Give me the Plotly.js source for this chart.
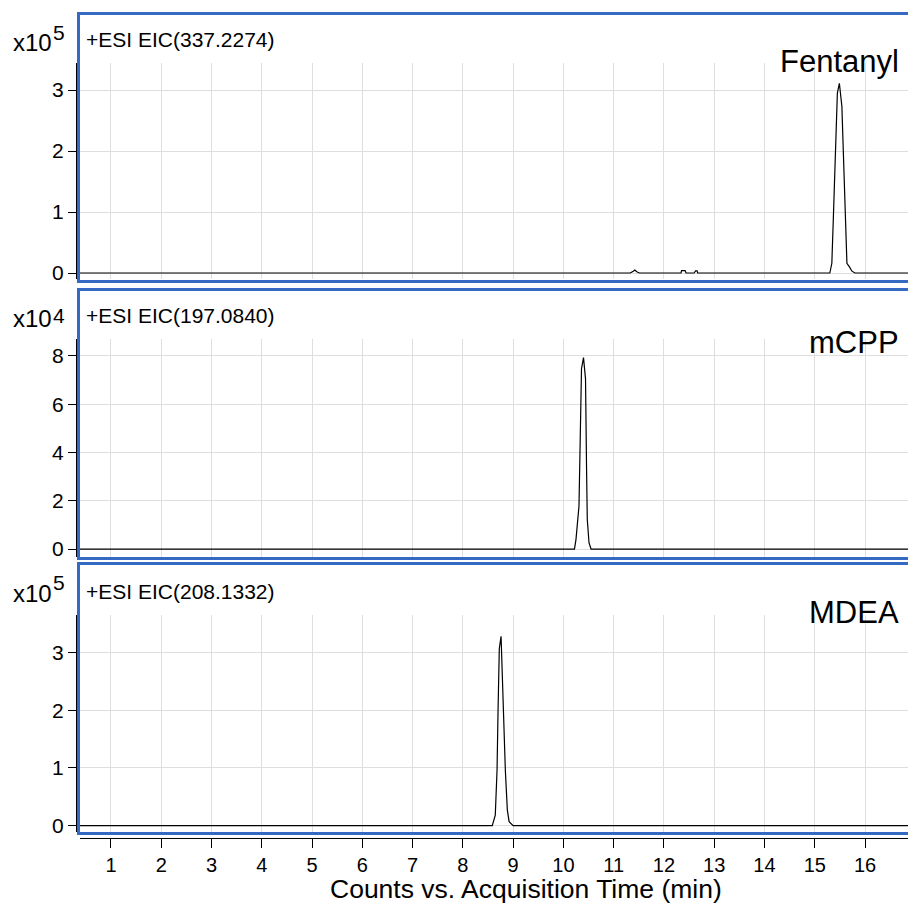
<!DOCTYPE html>
<html>
<head>
<meta charset="utf-8">
<script src="https://cdn.plot.ly/plotly-3.0.1.min.js"></script>
<style>
  html, body { margin: 0; padding: 0; background: #ffffff; }
  #chart { width: 908px; height: 905px; }
</style>
</head>
<body>
<div id="chart"></div>
<script>
// Extracted ion chromatograms: retention time (min) vs. counts
const fentanylTime = [0.38, 11.33, 11.39, 11.42, 11.46, 11.51, 12.34, 12.35, 12.42, 12.44, 12.60, 12.63, 12.66, 12.67,
  15.30, 15.34, 15.37, 15.40, 15.43, 15.45, 15.49, 15.54, 15.57, 15.60, 15.64, 15.69, 15.74, 15.80, 16.86];
const fentanylCounts = [0, 0, 3000, 5000, 2000, 0, 0, 4000, 4000, 0, 0, 3500, 3500, 0,
  0, 16000, 90000, 170000, 245000, 295000, 311000, 273000, 195000, 110000, 16000, 10000, 3000, 0, 0];

const mcppTime = [0.38, 10.22, 10.25, 10.28, 10.31, 10.335, 10.36, 10.40, 10.44, 10.46, 10.475, 10.51, 10.55, 16.86];
const mcppCounts = [0, 0, 3900, 10000, 17800, 46000, 74700, 79300, 70500, 34400, 12200, 2500, 0, 0];

const mdeaTime = [0.38, 8.585, 8.645, 8.68, 8.70, 8.725, 8.76, 8.79, 8.82, 8.845, 8.885, 8.92, 9.0, 16.86];
const mdeaCounts = [0, 0, 18000, 96000, 200000, 307000, 328000, 239000, 160000, 96000, 27000, 7000, 0, 0];

const compoundNames = ['Fentanyl', 'mCPP', 'MDEA'];
const eicLabels = ['+ESI EIC(337.2274)', '+ESI EIC(197.0840)', '+ESI EIC(208.1332)'];
const exponents = [5, 4, 5];
const tickValues = [[0, 1, 2, 3], [0, 2, 4, 6, 8], [0, 1, 2, 3]];
const timeTicks = [1, 2, 3, 4, 5, 6, 7, 8, 9, 10, 11, 12, 13, 14, 15, 16];
const xTitle = 'Counts vs. Acquisition Time (min)';

// page geometry (pixels)
const W = 908, H = 905;
const ML = 76, MB = 67;
const plotW = W - ML, plotH = H - MB;
const px = p => (p - ML) / plotW;
const py = p => (plotH - p) / plotH;

const FONT = 'Liberation Sans, Arial, sans-serif';
const BLUE = '#3469c4';
const GRID = '#dedede';

const series = [
  {t: fentanylTime, c: fentanylCounts},
  {t: mcppTime, c: mcppCounts},
  {t: mdeaTime, c: mdeaCounts}
];

// panel layout: y-domain in pixels (top, bottom), value range, frame edges, label rows
const panels = [
  {top: 63, bottom: 279, range: [-0.098, 3.443], frameTop: 13.5, frameBottom: 281.5,
   baseY: 42, expY: 33, eicY: 40, nameY: 61},
  {top: 339, bottom: 557, range: [-0.33, 8.70], frameTop: 289.5, frameBottom: 558.5,
   baseY: 318, expY: 315, eicY: 316, nameY: 342},
  {top: 615, bottom: 832, range: [-0.11, 3.65], frameTop: 563.5, frameBottom: 833.5,
   baseY: 593, expY: 582, eicY: 591, nameY: 612}
];

const traces = series.map((s, i) => ({
  x: s.t,
  y: s.c,
  type: 'scatter',
  mode: 'lines',
  line: {color: '#000000', width: 1.2},
  xaxis: 'x',
  yaxis: i === 0 ? 'y' : 'y' + (i + 1),
  hoverinfo: 'skip',
  showlegend: false
}));

const layout = {
  width: W,
  height: H,
  margin: {l: ML, r: 0, t: 0, b: MB},
  paper_bgcolor: '#ffffff',
  plot_bgcolor: '#ffffff',
  font: {family: FONT, color: '#000000', size: 20},
  xaxis: {
    domain: [px(80), 1],
    range: [0.384, 16.855],
    anchor: 'free',
    position: 0,
    tickvals: timeTicks,
    ticktext: timeTicks.map(String),
    ticks: 'outside',
    ticklen: 9,
    tickcolor: '#000000',
    tickwidth: 1,
    showline: true,
    linecolor: '#000000',
    linewidth: 1,
    showgrid: true,
    gridcolor: GRID,
    gridwidth: 1,
    zeroline: false,
    tickfont: {family: FONT, size: 20, color: '#000000'}
  },
  shapes: [],
  annotations: [
    // time axis title
    {
      xref: 'paper', yref: 'paper',
      x: px(526), y: py(889),
      xanchor: 'center', yanchor: 'middle',
      text: xTitle,
      showarrow: false,
      font: {family: FONT, size: 26.5, color: '#000000'}
    }
  ]
};

panels.forEach((p, i) => {
  const key = i === 0 ? 'yaxis' : 'yaxis' + (i + 1);
  const scale = Math.pow(10, exponents[i]);
  layout[key] = {
    domain: [py(p.bottom), py(p.top)],
    range: [p.range[0] * scale, p.range[1] * scale],
    anchor: 'free',
    position: 0,
    tickvals: tickValues[i].map(v => v * scale),
    ticktext: tickValues[i].map(String),
    ticks: 'outside',
    ticklen: 8,
    tickcolor: '#000000',
    showline: true,
    linecolor: '#000000',
    linewidth: 1,
    showgrid: true,
    gridcolor: GRID,
    gridwidth: 1,
    zeroline: false,
    tickfont: {family: FONT, size: 21, color: '#000000'}
  };

  // blue panel frame
  layout.shapes.push({
    type: 'rect', xref: 'paper', yref: 'paper',
    x0: px(78.5), x1: px(912),
    y0: py(p.frameBottom), y1: py(p.frameTop),
    line: {color: BLUE, width: 3},
    fillcolor: 'rgba(0,0,0,0)',
    layer: 'above'
  });

  // x10^n multiplier: base and raised exponent
  layout.annotations.push({
    xref: 'paper', yref: 'paper',
    x: px(11), y: py(p.baseY),
    xanchor: 'left', yanchor: 'middle',
    text: 'x10',
    showarrow: false,
    font: {family: FONT, size: 24, color: '#000000'}
  });
  layout.annotations.push({
    xref: 'paper', yref: 'paper',
    x: px(51), y: py(p.expY),
    xanchor: 'left', yanchor: 'middle',
    text: String(exponents[i]),
    showarrow: false,
    font: {family: FONT, size: 21, color: '#000000'}
  });

  // EIC description
  layout.annotations.push({
    xref: 'paper', yref: 'paper',
    x: px(84), y: py(p.eicY),
    xanchor: 'left', yanchor: 'middle',
    text: eicLabels[i],
    showarrow: false,
    font: {family: FONT, size: 21, color: '#000000'}
  });

  // compound name
  layout.annotations.push({
    xref: 'paper', yref: 'paper',
    x: px(901), y: py(p.nameY),
    xanchor: 'right', yanchor: 'middle',
    text: compoundNames[i],
    showarrow: false,
    font: {family: FONT, size: 31, color: '#000000'}
  });
});

Plotly.newPlot('chart', traces, layout, {staticPlot: true, displayModeBar: false});
</script>
</body>
</html>
